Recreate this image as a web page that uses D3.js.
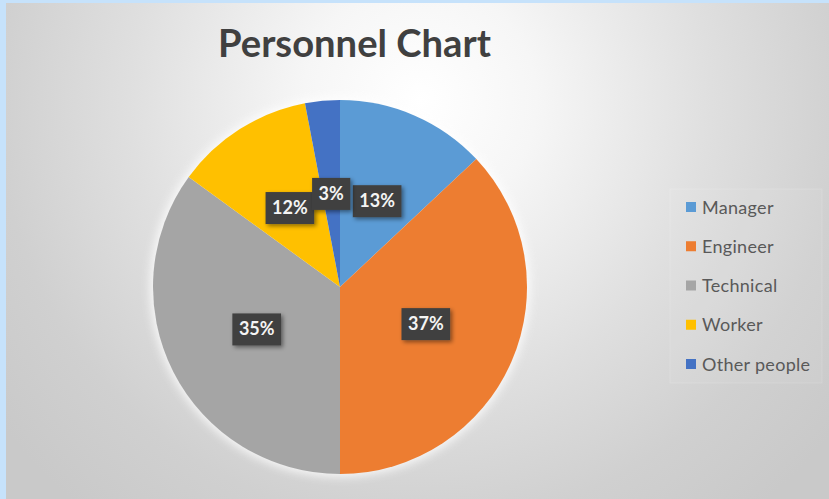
<!DOCTYPE html>
<html><head><meta charset="utf-8">
<script src="https://cdn.jsdelivr.net/npm/d3@7"></script>
<style>html,body{margin:0;padding:0;background:#c6e2fb;overflow:hidden}</style>
</head><body>
<script>
const title = "Personnel Chart";
const categories = ["Manager","Engineer","Technical","Worker","Other people"];
const values = [13,37,35,12,3];
const colors = ["#5B9BD5","#ED7D31","#A5A5A5","#FFC000","#4472C4"];

const W = 829, H = 499;
const svg = d3.select("body").append("svg").attr("width",W).attr("height",H);
const defs = svg.append("defs");

const bg = defs.append("radialGradient").attr("id","bg").attr("gradientUnits","userSpaceOnUse")
  .attr("cx",420).attr("cy",100).attr("r",530);
[[0,"#ffffff"],[0.22,"#f6f6f6"],[0.55,"#dfdfdf"],[0.8,"#d0d0d0"],[1,"#c9c9c9"]]
  .forEach(([o,c])=>bg.append("stop").attr("offset",o).attr("stop-color",c));

const sh = defs.append("filter").attr("id","sh").attr("x","-30%").attr("y","-30%").attr("width","160%").attr("height","160%");
sh.append("feDropShadow").attr("dx",2).attr("dy",2).attr("stdDeviation",2).attr("flood-color","#000").attr("flood-opacity",0.45);
const glow = defs.append("filter").attr("id","glow").attr("x","-20%").attr("y","-20%").attr("width","140%").attr("height","140%");
glow.append("feGaussianBlur").attr("stdDeviation",5);

svg.append("rect").attr("x",6).attr("y",3).attr("width",W-6).attr("height",H-3).attr("fill","url(#bg)");

// title
const t = svg.append("text").attr("x",354.5).attr("y",57).attr("text-anchor","middle")
  .attr("font-family","Lato, 'Open Sans', sans-serif").attr("font-weight","bold")
  .attr("font-size",33).attr("fill","#404040").text(title);
const tw = t.node().getComputedTextLength();
t.attr("font-size", 33*273/tw);

// pie
const cx = 340, cy = 287, R = 187;
const g = svg.append("g").attr("transform",`translate(${cx},${cy})`);
g.append("circle").attr("r",R+3).attr("fill","#ffffff").attr("opacity",0.8).attr("filter","url(#glow)");
const pie = d3.pie().sort(null).value(d=>d)(values);
const arc = d3.arc().innerRadius(0).outerRadius(R);
const lblArc = d3.arc().innerRadius(R*0.5).outerRadius(R*0.5);
g.selectAll("path.s").data(pie).join("path").attr("class","s")
  .attr("d",arc).attr("fill",(d,i)=>colors[i]);

// labels
const fmt = d3.format(".0%");
const total = d3.sum(values);
const lg = g.selectAll("g.l").data(pie).join("g").attr("class","l")
  .attr("transform",d=>{const c=lblArc.centroid(d);return `translate(${c[0]},${c[1]})`;});
lg.each(function(d){
  const s = d3.select(this);
  const rect = s.append("rect").attr("fill","#404040").attr("filter","url(#sh)");
  const tx = s.append("text").attr("text-anchor","middle").attr("y",6)
    .attr("font-family","Lato, 'Open Sans', sans-serif").attr("font-weight","bold")
    .attr("font-size",18).attr("fill","#f4f4f4").text(fmt(d.value/total));
  const w = tx.node().getComputedTextLength()+13;
  rect.attr("x",-w/2).attr("y",-16).attr("width",w).attr("height",32);
});

// legend
svg.append("rect").attr("x",670).attr("y",189).attr("width",152).attr("height",194)
  .attr("fill","#ffffff").attr("fill-opacity",0.05).attr("stroke","#ffffff").attr("stroke-opacity",0.15);
const ly = d3.scalePoint().domain(categories).range([207,364]);
const leg = svg.selectAll("g.lg").data(categories).join("g").attr("class","lg")
  .attr("transform",d=>`translate(686,${ly(d)})`);
leg.append("rect").attr("x",0).attr("y",-5).attr("width",10).attr("height",10).attr("fill",(d,i)=>colors[i]);
leg.append("text").attr("x",16).attr("y",6.5).attr("font-family","Lato, 'Open Sans', sans-serif")
  .attr("font-size",18).attr("letter-spacing",0.3).attr("fill","#595959").text(d=>d);
</script>
</body></html>
